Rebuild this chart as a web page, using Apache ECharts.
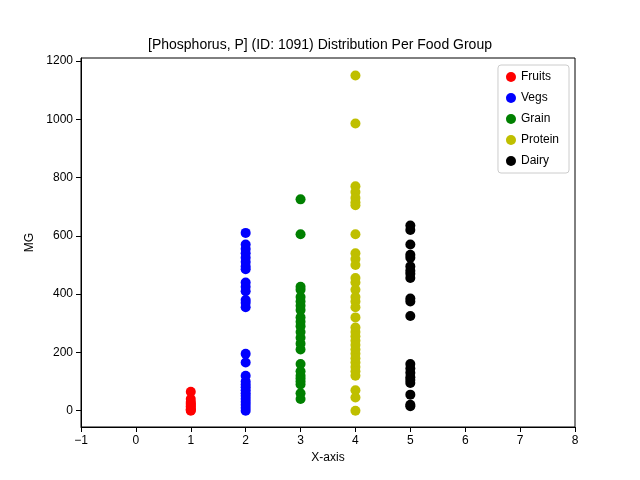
<!DOCTYPE html><html><head><meta charset="utf-8"><script src="https://cdn.jsdelivr.net/npm/echarts@6/dist/echarts.min.js"></script></head><body style="margin:0"><div id="c" style="width:640px;height:480px"></div><script>
const fruits=[65,40,30,25,20,15,10,5,2,0];
const vegs=[610,570,555,540,525,510,495,485,440,425,410,380,370,355,195,165,120,100,90,80,70,60,50,40,30,20,10,0];
const grain=[725,605,425,415,390,375,360,345,320,305,290,270,250,230,210,160,135,120,110,100,90,60,40];
const protein=[1150,985,770,750,730,715,705,605,540,520,500,455,440,415,390,375,355,320,285,270,255,240,225,210,195,180,165,150,135,120,70,45,0];
const dairy=[635,620,570,535,525,495,480,470,455,385,375,325,160,145,130,115,105,95,55,20,15];
const groups=[['Fruits',1,fruits,'#ff0000'],['Vegs',2,vegs,'#0000ff'],['Grain',3,grain,'#008000'],['Protein',4,protein,'#bfbf00'],['Dairy',5,dairy,'#000000']];
const ch=echarts.init(document.getElementById('c'));
const fmt=v=>String(v).replace('-','\u2212');
const ax={axisLine:{onZero:false,lineStyle:{color:'#000'}},axisTick:{lineStyle:{color:'#000'}},axisLabel:{color:'#000',fontSize:12,formatter:fmt},splitLine:{show:false},nameLocation:'middle',nameTextStyle:{color:'#000',fontSize:12}};
ch.setOption({animation:false,
title:{text:'[Phosphorus, P] (ID: 1091) Distribution Per Food Group',left:'center',top:33,textStyle:{fontSize:14,fontWeight:'normal',color:'#000'}},
grid:{left:81,right:65,top:58,bottom:53,show:true,borderColor:'#000'},
legend:{right:71,top:65,orient:'vertical',itemWidth:10,itemHeight:10,itemGap:9,textStyle:{fontSize:12,color:'#000'},borderColor:'#ccc',borderWidth:1,borderRadius:3,padding:[6,10,6,8],data:groups.map(g=>({name:g[0],icon:'circle'}))},
xAxis:Object.assign({},ax,{type:'value',min:-1,max:8,interval:1,name:'X-axis',nameGap:24}),
yAxis:Object.assign({},ax,{type:'value',min:-56,max:1210,interval:200,name:'MG',nameGap:40,axisLabel:{color:'#000',fontSize:12,formatter:fmt,customValues:[0,200,400,600,800,1000,1200]},axisTick:{customValues:[0,200,400,600,800,1000,1200]}}),
series:groups.map(g=>({name:g[0],type:'scatter',symbolSize:10,itemStyle:{color:g[3],opacity:1},data:g[2].map(v=>[g[1],v])}))});
</script></body></html>
